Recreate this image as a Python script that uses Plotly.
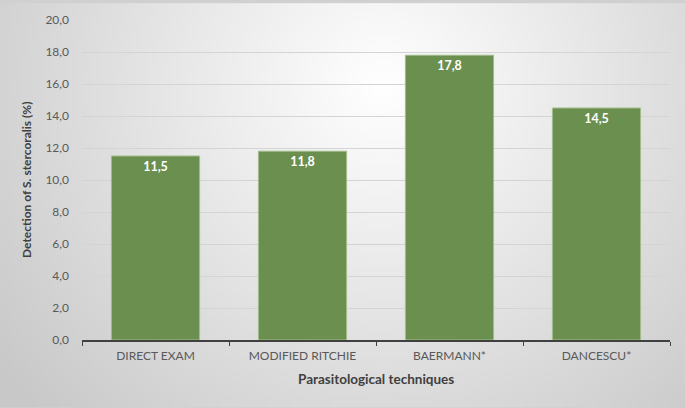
"""Detection of S. stercoralis by parasitological technique."""

import base64
import struct
import zlib

import plotly.graph_objects as go

techniques = ["DIRECT EXAM", "MODIFIED RITCHIE", "BAERMANN*", "DANCESCU*"]
detection_pct = [11.5, 11.8, 17.8, 14.5]
y_ticks = [0, 2, 4, 6, 8, 10, 12, 14, 16, 18, 20]


def radial_background(width=137, height=82):
    """Small PNG with a white-to-grey radial gradient, like the Excel chart area."""
    cx, cy, radius = 0.555 * width, 0.2 * height, 0.7 * width
    rows = b""
    for j in range(height):
        row = b"\x00"
        for i in range(width):
            d = (((i - cx) ** 2 + (j - cy) ** 2) ** 0.5) / radius
            v = int(round(255 - 55 * min(1.0, d)))
            row += bytes([v, v, v])
        rows += row

    def chunk(tag, data):
        body = tag + data
        return struct.pack(">I", len(data)) + body + struct.pack(">I", zlib.crc32(body) & 0xFFFFFFFF)

    png = b"\x89PNG\r\n\x1a\n"
    png += chunk(b"IHDR", struct.pack(">IIBBBBB", width, height, 8, 2, 0, 0, 0))
    png += chunk(b"IDAT", zlib.compress(rows, 9))
    png += chunk(b"IEND", b"")
    return "data:image/png;base64," + base64.b64encode(png).decode()


fig = go.Figure()
fig.add_trace(
    go.Bar(
        x=techniques,
        y=detection_pct,
        text=[f"{v:.1f}".replace(".", ",") for v in detection_pct],
        textposition="inside",
        insidetextanchor="end",
        textangle=0,
        textfont={"family": "Lato", "size": 12.5, "color": "white", "weight": "bold"},
        marker={"color": "#6a8f4f", "line": {"color": "#a3bd8c", "width": 1}},
        hoverinfo="x+y",
    )
)

fig.update_layout(
    width=685,
    height=408,
    margin={"l": 82, "r": 15, "t": 17, "b": 68},
    paper_bgcolor="#d0d0d0",
    plot_bgcolor="rgba(0,0,0,0)",
    separators=", ",
    bargap=0.4,
    showlegend=False,
    font={"family": "Lato", "size": 12, "color": "#595959"},
    images=[
        {
            "source": radial_background(),
            "xref": "paper",
            "yref": "paper",
            "x": -82 / 588,
            "y": 1 + 17 / 323,
            "sizex": 685 / 588,
            "sizey": 408 / 323,
            "sizing": "stretch",
            "layer": "below",
            "xanchor": "left",
            "yanchor": "top",
        }
    ],
    xaxis={
        "showline": True,
        "linecolor": "#404040",
        "linewidth": 1.5,
        "ticks": "outside",
        "tickson": "boundaries",
        "ticklen": 4,
        "tickcolor": "#404040",
        "showgrid": False,
        "ticklabelstandoff": 4,
        "tickfont": {"size": 12, "color": "#595959"},
    },
    yaxis={
        "range": [0, 20],
        "tickvals": y_ticks,
        "tickformat": ".1f",
        "ticks": "",
        "ticklabelstandoff": 12,
        "showgrid": True,
        "gridcolor": "#d4d4d4",
        "gridwidth": 1,
        "zeroline": False,
        "tickfont": {"size": 12, "color": "#595959"},
    },
    annotations=[
        {
            "text": "<b>Parasitological techniques</b>",
            "xref": "paper",
            "yref": "paper",
            "x": 0.5,
            "y": -39 / 323,
            "xanchor": "center",
            "yanchor": "middle",
            "showarrow": False,
            "font": {"size": 13.5, "color": "#404040"},
        },
        {
            "text": "<b>Detection of S. stercoralis (%)</b>",
            "xref": "paper",
            "yref": "paper",
            "x": -56 / 588,
            "y": 0.5,
            "xanchor": "center",
            "yanchor": "middle",
            "textangle": -90,
            "showarrow": False,
            "font": {"size": 12, "color": "#404040"},
        },
    ],
)

fig.write_html(
    "out.html",
    config={"displayModeBar": False},
    post_script="document.body.style.margin = '0';",
)
